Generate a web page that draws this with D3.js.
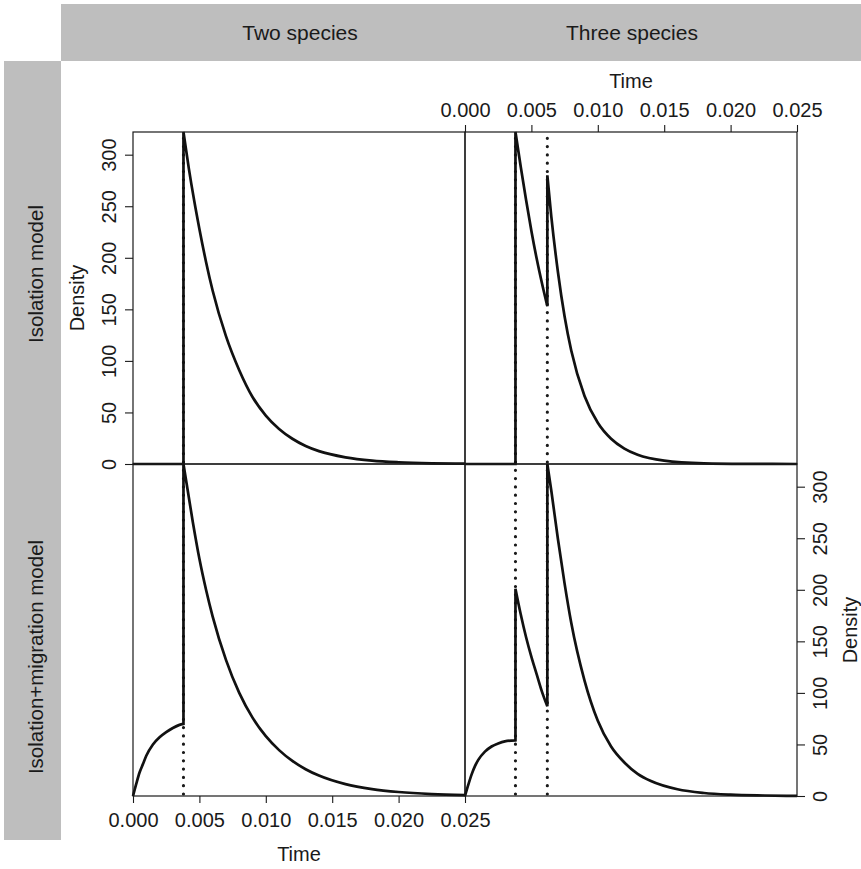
<!DOCTYPE html>
<html>
<head>
<meta charset="utf-8">
<script src="https://cdn.jsdelivr.net/npm/d3@7"></script>
<style>
  body { margin: 0; background: #fff; }
  svg text { font-family: "Liberation Sans", Arial, Helvetica, sans-serif; fill: #1a1a1a; }
  .axis path, .axis line { stroke: #1a1a1a; stroke-width: 1.1px; }
</style>
</head>
<body>
<div id="chart"></div>
<script>
// facet labels and ticks
var columns = ["Two species", "Three species"];
var rows = ["Isolation model", "Isolation+migration model"];
var timeTicks = [0, 0.005, 0.010, 0.015, 0.020, 0.025];
var densityTicks = [0, 50, 100, 150, 200, 250, 300];

// split times (dotted lines)
var splitsTwo = [0.0038];
var splitsThree = [0.0038, 0.0062];

// curves, [time, density]
// isolation, two species
var isoTwoA = [[0, 0], [0.0038, 0]];
var isoTwoB = [[0.0038, 322], [0.0042, 287], [0.0046, 256], [0.0050, 228], [0.0055, 196],
  [0.0060, 168], [0.0070, 124], [0.0080, 91], [0.0090, 65], [0.0100, 47], [0.0110, 34],
  [0.0120, 24.5], [0.0130, 17.5], [0.0140, 12.5], [0.0160, 6.5], [0.0180, 3.3],
  [0.0200, 1.7], [0.0225, 0.7], [0.0250, 0.3]];

// isolation, three species
var isoThreeA = [[0, 0], [0.0038, 0]];
var isoThreeB = [[0.0038, 322], [0.0042, 288], [0.0046, 256], [0.0050, 226], [0.0054, 199],
  [0.0058, 175], [0.0062, 153]];
var isoThreeC = [[0.0062, 280], [0.0065, 240], [0.0070, 186], [0.0075, 143], [0.0080, 110],
  [0.0090, 66], [0.0100, 40], [0.0110, 24.5], [0.0120, 15], [0.0130, 9], [0.0150, 3.3],
  [0.0180, 0.7], [0.0210, 0.15], [0.0250, 0]];

// isolation with migration, two species
var migTwoA = [[0, 0], [0.00025, 12], [0.0005, 23], [0.00075, 31], [0.0010, 39], [0.0015, 50],
  [0.0020, 57], [0.0025, 62], [0.0030, 66], [0.0035, 69], [0.0038, 70]];
var migTwoB = [[0.0038, 322], [0.0045, 266], [0.0050, 230], [0.0055, 200], [0.0060, 174],
  [0.0070, 132], [0.0080, 100], [0.0090, 76], [0.0100, 58], [0.0110, 44.5], [0.0120, 34],
  [0.0130, 26], [0.0140, 19.8], [0.0160, 11.5], [0.0180, 6.7], [0.0200, 3.9],
  [0.0225, 1.9], [0.0250, 0.9]];

// isolation with migration, three species
var migThreeA = [[0, 0], [0.00025, 11], [0.0005, 21], [0.00075, 29], [0.0010, 35], [0.0015, 43],
  [0.0020, 48], [0.0025, 51], [0.0030, 53], [0.0038, 54]];
var migThreeB = [[0.0038, 201], [0.0042, 176], [0.0046, 154], [0.0050, 135], [0.0054, 118],
  [0.0058, 101], [0.0062, 87]];
var migThreeC = [[0.0062, 322], [0.0065, 296], [0.0070, 249], [0.0075, 206], [0.0080, 168],
  [0.0090, 112], [0.0100, 73], [0.0110, 48], [0.0120, 32.5], [0.0130, 21.5], [0.0140, 14.5],
  [0.0160, 6.5], [0.0180, 2.9], [0.0200, 1.3], [0.0225, 0.5], [0.0250, 0.1]];

var width = 861;
var height = 869;
var panelW = 332;
var panelH = 332;
var plotLeft = 133;
var plotTop = 132;
var fontSize = 20;

var panels = [
  {row: 0, col: 0, pieces: [isoTwoA, isoTwoB], splits: splitsTwo},
  {row: 0, col: 1, pieces: [isoThreeA, isoThreeB, isoThreeC], splits: splitsThree},
  {row: 1, col: 0, pieces: [migTwoA, migTwoB], splits: splitsTwo},
  {row: 1, col: 1, pieces: [migThreeA, migThreeB, migThreeC], splits: splitsThree}
];

var x = d3.scaleLinear().domain([0, 0.025]).range([0, panelW]);
var y = d3.scaleLinear().domain([0, 322]).range([panelH, 0]);

var svg = d3.select("#chart").append("svg")
  .attr("width", width)
  .attr("height", height);

// strips
svg.append("rect")
  .attr("x", 61).attr("y", 4)
  .attr("width", width - 61).attr("height", 57)
  .attr("fill", "#bebebe");
svg.append("rect")
  .attr("x", 4).attr("y", 61)
  .attr("width", 57).attr("height", 779)
  .attr("fill", "#bebebe");

columns.forEach(function(c, i) {
  svg.append("text")
    .attr("x", plotLeft + panelW * i + panelW / 2 + 1)
    .attr("y", 39.5)
    .attr("text-anchor", "middle")
    .style("font-size", "21px")
    .text(c);
});

var rowCenters = [274, 657];
rows.forEach(function(r, i) {
  svg.append("text")
    .attr("transform", `translate(35.5, ${rowCenters[i]}) rotate(-90)`)
    .attr("dy", "0.36em")
    .attr("text-anchor", "middle")
    .style("font-size", "20.5px")
    .text(r);
});

var line = d3.line()
  .x(d => x(d[0]))
  .y(d => y(d[1]))
  .curve(d3.curveMonotoneX);

panels.forEach(function(p) {
  var g = svg.append("g")
    .attr("transform", `translate(${plotLeft + p.col * panelW}, ${plotTop + p.row * panelH})`);

  // dotted split lines
  g.selectAll(".split")
    .data(p.splits).enter()
    .append("line")
    .attr("class", "split")
    .attr("x1", d => x(d)).attr("x2", d => x(d))
    .attr("y1", y(0) - 2).attr("y2", y.range()[1] + 2)
    .attr("stroke", "#1a1a1a")
    .attr("stroke-width", 3.2)
    .attr("stroke-linecap", "round")
    .attr("stroke-dasharray", "0 8.3");

  // join pieces into one path, jumps drawn straight
  var dStr = p.pieces.map(function(piece, i) {
    var s = line(piece);
    return i === 0 ? s : "L" + s.slice(1);
  }).join("");

  g.append("path")
    .attr("d", dStr)
    .attr("fill", "none")
    .attr("stroke", "#111")
    .attr("stroke-width", 2.7)
    .attr("stroke-linejoin", "miter");

  g.append("rect")
    .attr("width", panelW).attr("height", panelH)
    .attr("fill", "none")
    .attr("stroke", "#1a1a1a")
    .attr("stroke-width", 1.2);
});

function styleText(sel) {
  sel.selectAll("text").style("font-size", fontSize + "px").style("fill", "#1a1a1a");
  sel.select(".domain").remove();
}

// left axis, top-left panel
var gl = svg.append("g")
  .attr("class", "axis")
  .attr("transform", `translate(${plotLeft}, ${plotTop})`)
  .call(d3.axisLeft(y).tickValues(densityTicks).tickSize(8).tickFormat(d3.format("d")))
  .call(styleText);
gl.selectAll("text")
  .attr("x", null).attr("dy", "0.36em")
  .attr("text-anchor", "middle")
  .attr("transform", "translate(-24,0) rotate(-90)");
svg.append("text")
  .attr("transform", `translate(77, ${plotTop + panelH / 2}) rotate(-90)`)
  .attr("dy", "0.36em")
  .attr("text-anchor", "middle")
  .style("font-size", fontSize + "px")
  .text("Density");

// right axis, bottom-right panel
var gr = svg.append("g")
  .attr("class", "axis")
  .attr("transform", `translate(${plotLeft + 2 * panelW}, ${plotTop + panelH})`)
  .call(d3.axisRight(y).tickValues(densityTicks).tickSize(8).tickFormat(d3.format("d")))
  .call(styleText);
gr.selectAll("text")
  .attr("x", null).attr("dy", "0.36em")
  .attr("text-anchor", "middle")
  .attr("transform", "translate(23,0) rotate(-90)");
svg.append("text")
  .attr("transform", `translate(850, ${plotTop + panelH * 1.5}) rotate(-90)`)
  .attr("dy", "0.36em")
  .attr("text-anchor", "middle")
  .style("font-size", fontSize + "px")
  .text("Density");

// top axis, top-right panel
var gt = svg.append("g")
  .attr("class", "axis")
  .attr("transform", `translate(${plotLeft + panelW}, ${plotTop})`)
  .call(d3.axisTop(x).tickValues(timeTicks).tickSize(7).tickFormat(d3.format(".3f")))
  .call(styleText);
gt.selectAll("text").attr("y", -15);
svg.append("text")
  .attr("x", plotLeft + panelW * 1.5)
  .attr("y", 88)
  .attr("text-anchor", "middle")
  .style("font-size", fontSize + "px")
  .text("Time");

// bottom axis, bottom-left panel
var gb = svg.append("g")
  .attr("class", "axis")
  .attr("transform", `translate(${plotLeft}, ${plotTop + 2 * panelH})`)
  .call(d3.axisBottom(x).tickValues(timeTicks).tickSize(7).tickFormat(d3.format(".3f")))
  .call(styleText);
gb.selectAll("text").attr("y", 17);
svg.append("text")
  .attr("x", plotLeft + panelW / 2)
  .attr("y", 861)
  .attr("text-anchor", "middle")
  .style("font-size", fontSize + "px")
  .text("Time");
</script>
</body>
</html>
